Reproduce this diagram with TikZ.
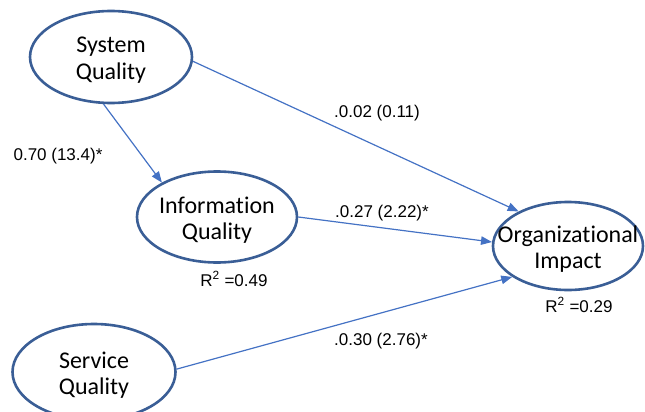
\documentclass[tikz,border=0pt]{standalone}
\usepackage{fontspec}
\setmainfont{Liberation Sans}
\newfontfamily\boxfont[Ligatures=NoCommon]{Carlito}
\usetikzlibrary{shapes.geometric,arrows.meta}
\definecolor{rimblue}{RGB}{58,94,150}
\definecolor{pathblue}{RGB}{68,114,196}
\begin{document}
\begin{tikzpicture}[x=1pt,y=-1pt,
  construct/.style={ellipse,draw=rimblue,line width=2.6pt,fill=white,inner sep=0pt},
  caption/.style={align=center,inner sep=0pt,yshift=-3pt,
    font=\boxfont\fontsize{24}{26.5}\selectfont},
  path/.style={draw=pathblue,line width=1.2pt,-{Triangle[length=11pt,width=8.5pt]}},
  coef/.style={font=\fontsize{17}{19}\selectfont,inner sep=0pt}]
\useasboundingbox (0,0) rectangle (645,412);
% latent constructs, each with its name centred inside
\node[construct,minimum width=162pt,minimum height=92pt,
  label={[caption]center:System\\Quality}] (sys) at (111,57) {};
\node[construct,minimum width=160pt,minimum height=91pt,
  label={[caption]center:Information\\Quality}] (info) at (217,217) {};
\node[construct,minimum width=150pt,minimum height=88pt,
  label={[caption]center:Organizational\\Impact}] (org) at (568,246) {};
\node[construct,minimum width=163pt,minimum height=96pt,
  label={[caption]center:Service\\Quality}] (serv) at (94,372) {};
% structural paths
\draw[path] (sys.261) -- (info.148);
\draw[path] (sys.-3) -- (org.145);
\draw[path] (info.0) -- (org.177);
\draw[path] (serv.2) -- (org.209);
% path coefficients (t-values)
\node[coef] (c1) at (58,156) {0.70 (13.4)*};
\node[coef] (c2) at (377,113) {.0.02 (0.11)};
\node[coef] (c3) at (382,213) {.0.27 (2.22)*};
\node[coef] (c4) at (381,341) {.0.30 (2.76)*};
% explained variance
\node[coef] (r1) at (234,279) {R\textsuperscript{2} =0.49};
\node[coef] (r2) at (579,305) {R\textsuperscript{2} =0.29};
\end{tikzpicture}
\end{document}
